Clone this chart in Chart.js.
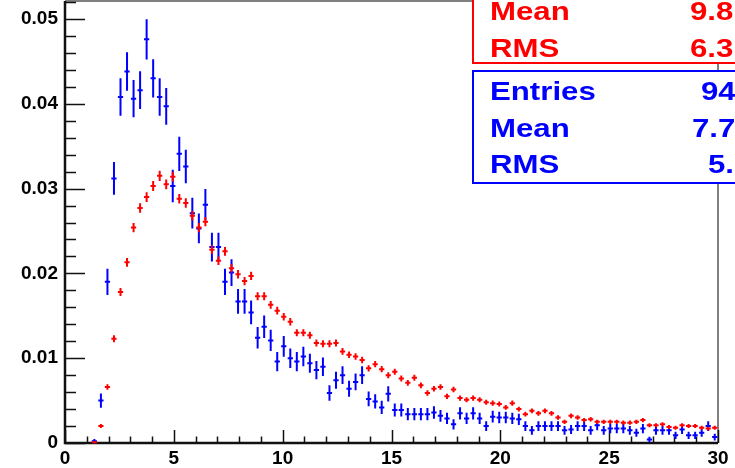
<!DOCTYPE html>
<html>
<head>
<meta charset="utf-8">
<script src="https://cdn.jsdelivr.net/npm/chart.js@4.4.1/dist/chart.umd.min.js"></script>
<style>
  html, body { margin: 0; padding: 0; background: #fff; overflow: hidden; }
  canvas { display: block; }
</style>
</head>
<body>
<canvas id="histo" width="735" height="468"></canvas>
<script>
// histogrammes normalisés, 100 bins de 0.3 entre 0 et 30
const binWidth = 0.3;

const redValues = [
  0, 0, 0, 0, 0.0001, 0.0020, 0.0066, 0.0123, 0.0178, 0.0213,
  0.0254, 0.0277, 0.0290, 0.0303, 0.0315, 0.0305, 0.0314, 0.0288, 0.0283, 0.0268,
  0.0254, 0.0261, 0.0228, 0.0215, 0.0226, 0.0206, 0.0199, 0.0191, 0.0197, 0.0173,
  0.0173, 0.0163, 0.0156, 0.0149, 0.0143, 0.0130, 0.0130, 0.0127, 0.0118, 0.0117,
  0.0117, 0.0118, 0.0108, 0.0104, 0.0102, 0.0098, 0.0088, 0.0093, 0.0087, 0.0080,
  0.0084, 0.0076, 0.0071, 0.0077, 0.0068, 0.0059, 0.0064, 0.0066, 0.0055, 0.0063,
  0.0053, 0.0051, 0.0053, 0.0051, 0.0048, 0.0047, 0.0046, 0.0042, 0.0047, 0.0040,
  0.0034, 0.0038, 0.0035, 0.0038, 0.0035, 0.0030, 0.0025, 0.0032, 0.0030, 0.0027,
  0.0028, 0.0025, 0.0025, 0.0025, 0.0025, 0.0024, 0.0024, 0.0025, 0.0027, 0.0021,
  0.0021, 0.0022, 0.0019, 0.0018, 0.0021, 0.0020, 0.0020, 0.0018, 0.0017, 0.0018
];

const blueValues = [
  0, 0, 0, 0, 0.0002, 0.0050, 0.0190, 0.0312, 0.0408, 0.0438,
  0.0406, 0.0416, 0.0476, 0.0430, 0.0408, 0.0397, 0.0303, 0.0341, 0.0326, 0.0271,
  0.0253, 0.0281, 0.0231, 0.0231, 0.0190, 0.0201, 0.0167, 0.0167, 0.0154, 0.0124,
  0.0137, 0.0121, 0.0096, 0.0114, 0.0100, 0.0096, 0.0102, 0.0094, 0.0086, 0.0090,
  0.0059, 0.0074, 0.0080, 0.0064, 0.0072, 0.0080, 0.0052, 0.0049, 0.0042, 0.0058,
  0.0039, 0.0039, 0.0034, 0.0034, 0.0034, 0.0034, 0.0036, 0.0032, 0.0029, 0.0022,
  0.0035, 0.0029, 0.0035, 0.0029, 0.0020, 0.0031, 0.0030, 0.0030, 0.0029, 0.0028,
  0.0020, 0.0015, 0.0020, 0.0020, 0.0020, 0.0020, 0.0015, 0.0016, 0.0020, 0.0020,
  0.0015, 0.0021, 0.0015, 0.0017, 0.0017, 0.0017, 0.0015, 0.0012, 0.0017, 0.0004,
  0.0015, 0.0015, 0.0015, 0.0009, 0.0016, 0.0009, 0.0009, 0.0012, 0.0020, 0.0007
];

// nombre d'entrées -> erreurs poissoniennes sqrt(n)/N
const blueEntries = 9400;
const redEntries = 140000;

const xTickLabels = ['0', '5', '10', '15', '20', '25', '30'];
const yTickLabels = ['0', '0.01', '0.02', '0.03', '0.04', '0.05'];

const redStats = [['Mean', '9.8'], ['RMS', '6.3']];
const blueStats = [['Entries', '94'], ['Mean', '7.7'], ['RMS', '5.']];

// points avec erreur, bins vides ignorés
function toPoints(values, entries) {
  const pts = [];
  values.forEach((v, i) => {
    if (v <= 0) return;
    pts.push({ x: (i + 0.5) * binWidth, y: v, err: Math.sqrt(v / entries) });
  });
  return pts;
}

// barres d'erreur style ROOT (croix)
const errorBars = {
  id: 'errorBars',
  afterDatasetsDraw(chart) {
    const { ctx, scales: { x, y } } = chart;
    const half = 0.12;
    chart.data.datasets.forEach(ds => {
      ctx.save();
      ctx.strokeStyle = ds.borderColor;
      ctx.lineWidth = 2;
      ctx.beginPath();
      ds.data.forEach(p => {
        const px = x.getPixelForValue(p.x), py = y.getPixelForValue(p.y);
        ctx.moveTo(x.getPixelForValue(p.x - half), py);
        ctx.lineTo(x.getPixelForValue(p.x + half), py);
        ctx.moveTo(px, y.getPixelForValue(p.y - p.err) + 1);
        ctx.lineTo(px, y.getPixelForValue(p.y + p.err) - 1);
      });
      ctx.stroke();
      ctx.restore();
    });
  }
};

// cadre + graduations intérieures
const frame = {
  id: 'frame',
  beforeDatasetsDraw(chart) {
    const { ctx, chartArea: a, scales: { x, y } } = chart;
    ctx.save();
    ctx.strokeStyle = '#555';
    ctx.lineWidth = 1.5;
    ctx.beginPath();
    ctx.moveTo(a.left, a.top); ctx.lineTo(a.right, a.top); ctx.lineTo(a.right, a.bottom);
    ctx.stroke();

    ctx.strokeStyle = '#111';
    ctx.lineWidth = 1.5;
    ctx.beginPath();
    for (let k = 0; k <= 26; k++) {
      const v = k * 0.002;
      if (v > y.max) break;
      const py = Math.round(y.getPixelForValue(v)) + 0.5;
      ctx.moveTo(a.left, py);
      ctx.lineTo(a.left + (k % 5 === 0 ? 20 : 11), py);
    }
    for (let k = 0; k <= 30; k++) {
      const px = Math.round(x.getPixelForValue(k)) + 0.5;
      ctx.moveTo(px, a.bottom);
      ctx.lineTo(px, a.bottom - (k % 5 === 0 ? 13 : 6.5));
    }
    ctx.stroke();

    ctx.lineWidth = 2.5;
    ctx.beginPath();
    ctx.moveTo(a.left, a.top); ctx.lineTo(a.left, a.bottom); ctx.lineTo(a.right, a.bottom);
    ctx.stroke();
    ctx.restore();
  }
};

// boîtes de statistiques
function statBox(ctx, left, top, bottom, color, rows, firstBaseline) {
  ctx.fillStyle = '#fff';
  ctx.fillRect(left, top, 800 - left, bottom - top);
  ctx.strokeStyle = color;
  ctx.lineWidth = 2;
  ctx.strokeRect(left, top, 800 - left, bottom - top);
  ctx.fillStyle = color;
  ctx.font = 'bold 26px "Liberation Sans", Arial, sans-serif';
  rows.forEach((r, i) => {
    const base = firstBaseline + i * 36.5;
    [[490, r[0]], [r[2], r[1]]].forEach(([tx, t]) => {
      ctx.save();
      ctx.translate(tx, base);
      ctx.scale(1.2, 1);
      ctx.fillText(t, 0, 0);
      ctx.restore();
    });
  });
}

const stats = {
  id: 'stats',
  afterDraw(chart) {
    const ctx = chart.ctx;
    ctx.save();
    ctx.textBaseline = 'alphabetic';
    statBox(ctx, 473, -40, 63, '#ff0000',
      redStats.map((s, i) => [s[0], s[1], 690]), 20);
    statBox(ctx, 473, 71, 183, '#0000ff',
      blueStats.map((s, i) => [s[0], s[1], [701, 692, 708][i]]), 100);
    ctx.restore();
  }
};

const tickFont = { family: '"Liberation Sans", Arial, sans-serif', weight: 'bold', size: 19 };

new Chart(document.getElementById('histo'), {
  type: 'scatter',
  data: {
    datasets: [
      { label: 'bleu', data: toPoints(blueValues, blueEntries), borderColor: '#0000ff', pointRadius: 0 },
      { label: 'rouge', data: toPoints(redValues, redEntries), borderColor: '#ff0000', pointRadius: 0 }
    ]
  },
  options: {
    responsive: false,
    animation: false,
    events: [],
    layout: { padding: { left: 0, top: 1, right: 17, bottom: 0 } },
    plugins: { legend: { display: false }, tooltip: { enabled: false } },
    scales: {
      x: {
        type: 'linear', min: 0, max: 30,
        grid: { display: false, drawTicks: false },
        border: { display: false },
        afterBuildTicks: s => { s.ticks = xTickLabels.map(t => ({ value: Number(t) })); },
        ticks: { font: tickFont, color: '#000', padding: 4, maxRotation: 0,
                 callback: (v, i) => xTickLabels[i] },
        afterFit: s => { s.height = 25; s.paddingLeft = 0; s.paddingRight = 0; }
      },
      y: {
        type: 'linear', min: 0, max: 0.05212,
        grid: { display: false, drawTicks: false },
        border: { display: false },
        afterBuildTicks: s => { s.ticks = yTickLabels.map(t => ({ value: Number(t) })); },
        ticks: { font: tickFont, color: '#000', padding: 7,
                 callback: (v, i) => yTickLabels[i] },
        afterFit: s => { s.width = 65; s.paddingTop = 0; s.paddingBottom = 0; }
      }
    }
  },
  plugins: [frame, errorBars, stats]
});
</script>
</body>
</html>
